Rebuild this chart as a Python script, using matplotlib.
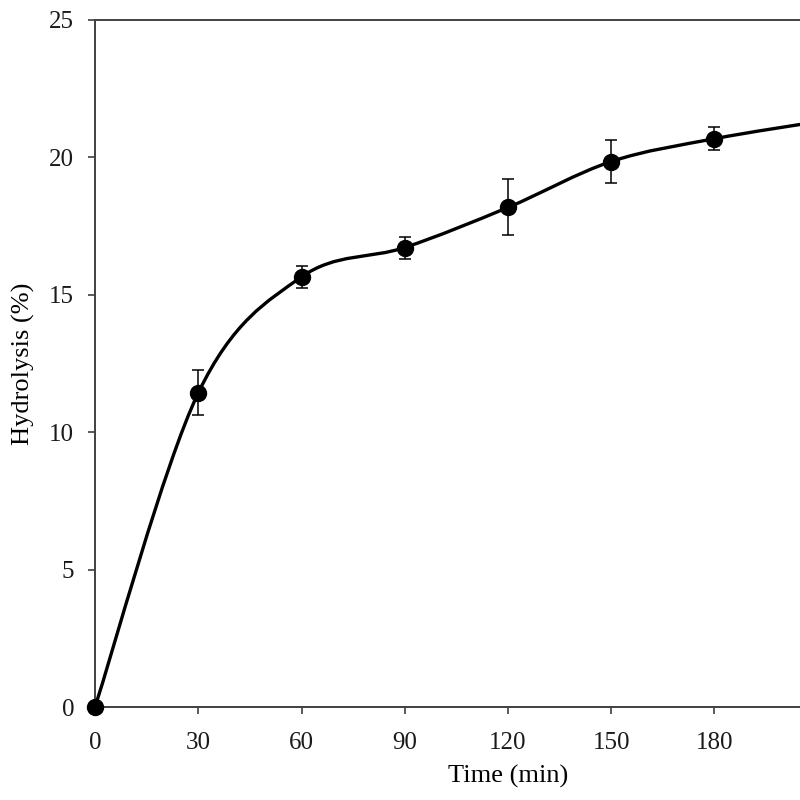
import numpy as np
import matplotlib.pyplot as plt
from matplotlib.path import Path
from matplotlib.patches import PathPatch

# hydrolysis over time
time_min = [0, 30, 60, 90, 120, 150, 180, 210]
hydrolysis = [0.0, 11.43, 15.65, 16.72, 18.18, 19.85, 20.68, 21.3]
errors = [0.0, 0.82, 0.40, 0.40, 1.02, 0.78, 0.42, 0.40]

x_ticks = [0, 30, 60, 90, 120, 150, 180, 210, 240]
y_ticks = [0, 5, 10, 15, 20, 25]

plt.rcParams['font.family'] = ['Liberation Serif', 'DejaVu Serif']

fig = plt.figure(figsize=(8, 8), dpi=100)
# axes runs past the right edge, as in the cropped original
ax = fig.add_axes([95 / 800, 93 / 800, 826 / 800, 687 / 800])

# smooth line (Excel-like Catmull-Rom bezier through the points)
pts = np.column_stack([time_min, hydrolysis])
verts = [tuple(pts[0])]
codes = [Path.MOVETO]
n = len(pts)
for i in range(n - 1):
    p0 = pts[max(i - 1, 0)]
    p1 = pts[i]
    p2 = pts[i + 1]
    p3 = pts[min(i + 2, n - 1)]
    c1 = p1 + (p2 - p0) / 6
    c2 = p2 - (p3 - p1) / 6
    verts += [tuple(c1), tuple(c2), tuple(p2)]
    codes += [Path.CURVE4] * 3
ax.add_patch(PathPatch(Path(verts, codes), facecolor='none', edgecolor='black',
                       lw=2.4, capstyle='round', zorder=2))

ax.errorbar(time_min, hydrolysis, yerr=errors, fmt='none', ecolor='black',
            elinewidth=1.1, capsize=4.5, capthick=1.1, zorder=3)
ax.plot(time_min, hydrolysis, 'o', color='black', markersize=11.5, zorder=4,
        clip_on=False)

ax.set_xlim(0, 240)
ax.set_ylim(0, 25)
ax.set_xticks(x_ticks)
ax.set_yticks(y_ticks)
ax.set_xlabel('Time (min)', fontsize=19, labelpad=8)
ax.set_ylabel('Hydrolysis (%)', fontsize=19, labelpad=10)

for s in ax.spines.values():
    s.set_color('#404040')
    s.set_linewidth(1.4)
ax.tick_params(axis='both', direction='out', length=5, width=1.2,
               color='#404040', labelsize=18, labelcolor='#1a1a1a')
ax.tick_params(axis='x', pad=13)
ax.tick_params(axis='y', pad=10)

fig.savefig('out.png', dpi=100)
